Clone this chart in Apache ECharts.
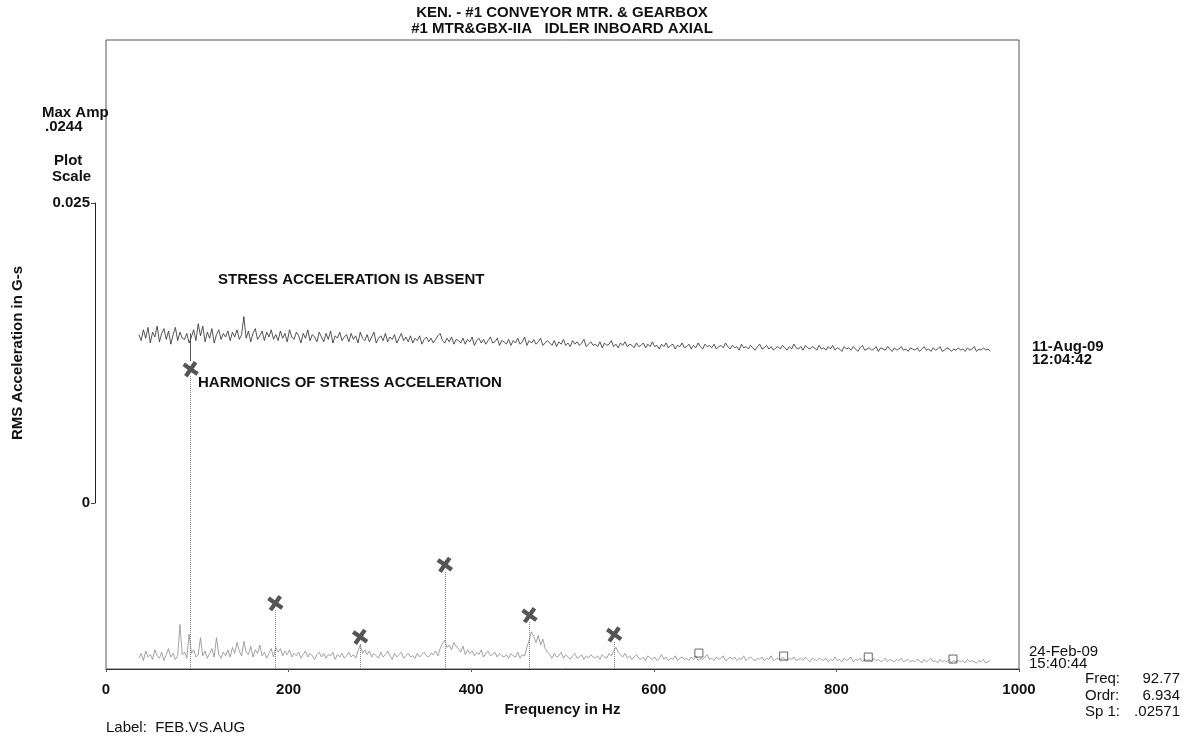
<!DOCTYPE html>
<html>
<head>
<meta charset="utf-8">
<script src="https://cdn.jsdelivr.net/npm/echarts@6/dist/echarts.min.js"></script>
<style>html,body{margin:0;padding:0;background:#fff}#c{width:1194px;height:738px}</style>
</head>
<body>
<div id="c"></div>
<script>
// Frequency grid of both spectra (Hz): first line and line spacing
var FREQ_START = 36;
var FREQ_STEP = 2.5;
// 11-Aug-09 spectrum, RMS acceleration in tenths of a milli-G
var augTenthMg = [
 22,17,26,19,28,15,24,20,29,16,23,27,18,25,14,22,28,17,24,19,
 18,23,15,20,26,17,31,21,29,16,24,19,27,15,22,26,18,23,20,25,
 17,24,20,26,18,22,37,19,25,16,23,27,18,21,25,17,24,20,26,18,
 22,17,25,19,23,16,26,20,18,24,21,15,23,19,26,17,22,20,16,24,
 20,16,23,18,25,15,21,19,24,17,20,22,16,23,18,21,15,24,19,17,
 22,16,20,24,15,19,21,17,23,16,20,18,22,15,19,23,17,20,16,21,
 15,19,17,21,14,18,20,16,19,15,18,21,23,17,15,19,16,20,14,18,
 17,15,19,14,18,16,20,13,17,19,15,18,14,17,20,15,16,19,13,17,
 16,14,18,13,17,15,19,14,16,20,13,17,15,18,14,16,19,13,15,17,
 15,13,17,12,16,14,18,13,15,12,17,14,16,13,15,18,12,14,16,13,
 14,12,16,11,15,13,14,17,12,14,11,15,13,16,12,14,13,11,15,12,
 13,15,11,14,12,16,12,13,10,14,12,15,11,13,14,10,13,12,15,11,
 12,14,10,13,11,15,12,10,14,12,13,11,14,10,12,13,11,15,12,10,
 13,11,12,9,14,11,12,10,13,11,9,12,14,10,11,13,10,12,9,11,
 12,10,13,11,9,12,10,14,11,10,12,9,13,11,10,12,11,9,13,10,
 11,9,12,10,13,9,11,10,8,12,10,11,9,12,10,8,11,13,9,10,
 11,9,10,12,8,11,10,9,12,10,8,11,9,10,12,9,10,8,11,10,
 9,11,8,10,12,9,10,8,11,9,10,12,8,9,11,10,8,10,9,11,
 9,10,8,11,9,10,12,8,10,9,11,9,10,8
];
// 24-Feb-09 spectrum, RMS acceleration in tenths of a milli-G (floor, without the marked harmonics)
var febTenthMg = [
 9,13,7,15,10,12,8,16,11,9,14,7,12,17,10,13,8,11,37,12,
 14,9,29,13,16,10,12,26,11,15,9,13,17,10,26,12,9,14,11,16,
 10,18,13,22,15,11,23,14,12,19,10,16,13,20,11,14,9,13,17,10,
 18,14,17,11,15,12,16,10,13,11,14,9,12,15,10,13,11,8,12,14,
 10,13,9,12,11,14,8,12,10,13,9,11,14,10,12,9,15,20,13,16,
 12,15,10,13,11,9,14,10,12,15,11,8,13,10,12,14,9,11,13,10,
 11,9,13,10,12,14,11,10,13,12,15,11,17,21,24,18,20,16,22,19,
 17,14,19,12,16,13,15,11,14,12,16,10,13,15,11,12,14,10,13,11,
 10,12,9,13,11,10,14,9,12,11,18,24,31,27,22,28,20,25,17,14,
 12,9,13,10,11,14,9,12,10,8,11,13,9,10,12,8,11,9,12,10,
 9,11,8,12,10,9,13,11,15,18,14,12,10,13,9,11,8,10,12,9,
 8,10,7,11,9,8,10,7,9,12,8,10,7,9,8,11,7,9,10,8,
 9,7,10,8,11,7,9,8,10,12,8,9,7,10,8,9,11,7,8,10,
 8,10,7,9,8,11,7,9,10,8,7,9,8,10,7,9,8,11,7,8,
 9,7,10,8,7,9,8,10,7,8,9,7,10,8,6,9,8,7,9,8,
 7,9,6,8,7,10,7,8,6,9,7,8,10,6,8,7,9,6,8,7,
 8,6,9,7,8,6,7,9,6,8,7,6,8,7,9,6,7,8,6,7,
 6,8,7,5,8,6,7,9,6,7,5,8,6,7,6,8,5,7,6,7,
 6,7,5,8,6,7,6,5,7,6,8,5,6,7
];
// Harmonic peaks of the 24-Feb-09 spectrum (Hz, milli-G)
var harmFreq = [92.77,185.5,278.3,371.1,463.9,556.6,649.4,742.2,834.9,927.7];
var harmMg   = [24.4, 4.9, 2.1, 8.1, 3.9, 2.3, 1.33, 1.08, 1.0, 0.83];
var crossCount = 6; // first six marked with X, the rest with squares
// Cursor value on the 11-Aug-09 spectrum
var augCursorFreq = 92.77, augCursorMg = 2.3;
var xTicks = [0,200,400,600,800,1000];
var scaleTicks = [0, 0.025];

var toPairs = function(arr){ return arr.map(function(v,i){ return [FREQ_START + i*FREQ_STEP, v/10000]; }); };
var F = 'Liberation Sans, Arial, sans-serif';
var crossPath = 'path://M2,0 L5,3 L8,0 L10,2 L7,5 L10,8 L8,10 L5,7 L2,10 L0,8 L3,5 L0,2 Z';

var chart = echarts.init(document.getElementById('c'), null, {renderer:'canvas'});
function txt(t, x, y, o){
  o = o || {};
  return {type:'text', x:x, y:y, silent:true, style:{text:t, fill:'#111', font:(o.w||'bold')+' '+(o.s||15)+'px '+F, textAlign:o.a||'left', textVerticalAlign:'middle'}};
}
var option = {
  animation:false,
  backgroundColor:'#fff',
  grid:[
    {left:106, right:175, top:40, bottom:69, show:true, borderColor:'#555', borderWidth:1, backgroundColor:'transparent'},
    {left:106, right:175, top:40, bottom:377},
    {left:95, width:1, top:203, height:300}
  ],
  xAxis:[
    {gridIndex:0, type:'value', min:0, max:1000, interval:200,
     axisLine:{show:true, lineStyle:{color:'#333', width:1}},
     axisTick:{show:true, length:3, lineStyle:{color:'#555'}},
     splitLine:{show:false},
     axisLabel:{margin:13, color:'#111', fontFamily:F, fontWeight:'bold', fontSize:15,
       formatter:function(v){ return xTicks.indexOf(v) >= 0 ? String(v) : ''; }},
     name:'Frequency in Hz', nameLocation:'middle', nameGap:13,
     nameTextStyle:{color:'#111', fontFamily:F, fontWeight:'bold', fontSize:15, verticalAlign:'top'}},
    {gridIndex:1, type:'value', min:0, max:1000, show:false},
    {gridIndex:2, type:'value', min:0, max:1, show:false}
  ],
  yAxis:[
    {gridIndex:0, type:'value', min:0, max:0.05242, show:false},
    {gridIndex:1, type:'value', min:0, max:0.02675, show:false},
    {gridIndex:2, type:'value', min:0, max:0.025, interval:0.025,
     axisLine:{show:true, lineStyle:{color:'#222', width:1}},
     axisTick:{show:true, length:4, lineStyle:{color:'#444'}},
     splitLine:{show:false},
     axisLabel:{margin:5, color:'#111', fontFamily:F, fontWeight:'bold', fontSize:15,
       formatter:function(v){ return v===scaleTicks[0] ? '0' : '0.025'; }},
     name:'RMS Acceleration in G-s', nameLocation:'middle', nameGap:70, nameRotate:90,
     nameTextStyle:{color:'#111', fontFamily:F, fontWeight:'bold', fontSize:15}}
  ],
  series:[
    {type:'line', name:'24-Feb-09', xAxisIndex:0, yAxisIndex:0, data:toPairs(febTenthMg),
     symbol:'none', lineStyle:{color:'#8c8c8c', width:0.8}, silent:true, z:2,
     markLine:{silent:true, symbol:'none', label:{show:false},
       lineStyle:{color:'#888', width:1, type:'dotted'},
       data: harmFreq.slice(0,crossCount).map(function(f,i){ return [{coord:[f,0]},{coord:[f,harmMg[i]/1000]}]; })}},
    {type:'line', name:'11-Aug-09', xAxisIndex:1, yAxisIndex:1, data:toPairs(augTenthMg),
     symbol:'none', lineStyle:{color:'#2a2a2a', width:0.8}, silent:true, z:3,
     markLine:{silent:true, symbol:'none', label:{show:false},
       lineStyle:{color:'#555', width:1, type:'solid'},
       data:[[{coord:[augCursorFreq,0]},{coord:[augCursorFreq,augCursorMg/1000]}]]}},
    {type:'scatter', xAxisIndex:0, yAxisIndex:0, silent:true, z:5,
     data: harmFreq.slice(0,crossCount).map(function(f,i){ return [f, harmMg[i]/1000]; }),
     symbol:crossPath, symbolSize:15, symbolOffset:[0,-7], symbolRotate:10,
     itemStyle:{color:'#2b2b2b'}},
    {type:'scatter', xAxisIndex:0, yAxisIndex:0, silent:true, z:5,
     data: harmFreq.slice(crossCount).map(function(f,i){ return [f, harmMg[i+crossCount]/1000]; }),
     symbol:'rect', symbolSize:8,
     itemStyle:{color:'rgba(255,255,255,0)', borderColor:'#444', borderWidth:1}}
  ],
  graphic:[
    txt('KEN. - #1 CONVEYOR MTR. & GEARBOX', 562, 13, {a:'center'}),
    txt('#1 MTR&GBX-IIA   IDLER INBOARD AXIAL', 562, 29, {a:'center'}),
    txt('Max Amp', 42, 113),
    txt('.0244', 45, 127),
    txt('Plot', 54, 161),
    txt('Scale', 52, 177),
    txt('STRESS ACCELERATION IS ABSENT', 218, 280),
    txt('HARMONICS OF STRESS ACCELERATION', 198, 383),
    txt('11-Aug-09', 1032, 347),
    txt('12:04:42', 1032, 360),
    txt('24-Feb-09', 1029, 652, {w:'normal'}),
    txt('15:40:44', 1029, 664, {w:'normal'}),
    txt('Freq:', 1085, 679, {w:'normal'}),
    txt('92.77', 1180, 679, {w:'normal', a:'right'}),
    txt('Ordr:', 1085, 696, {w:'normal'}),
    txt('6.934', 1180, 696, {w:'normal', a:'right'}),
    txt('Sp 1:', 1085, 712, {w:'normal'}),
    txt('.02571', 1180, 712, {w:'normal', a:'right'}),
    txt('Label:  FEB.VS.AUG', 106, 728, {w:'normal'})
  ]
};
chart.setOption(option);
</script>
</body>
</html>
